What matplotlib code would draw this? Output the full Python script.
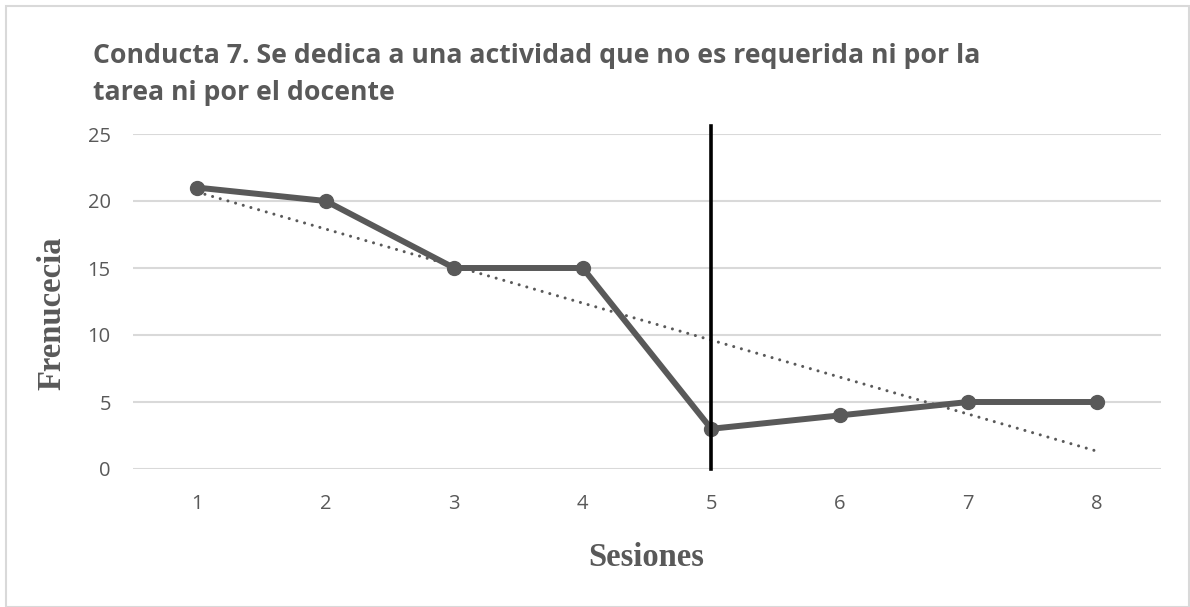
import numpy as np
import matplotlib.pyplot as plt
from matplotlib.patches import Rectangle

sesiones = [1, 2, 3, 4, 5, 6, 7, 8]
frecuencia = [21, 20, 15, 15, 3, 4, 5, 5]
yticks = [0, 5, 10, 15, 20, 25]
corte = 5  # session where the phase changes

gris = '#595959'

fig = plt.figure(figsize=(11.9, 6.07), dpi=100)
ax = fig.add_axes([133 / 1190, 1 - 469 / 607, (1161 - 133) / 1190, (469 - 134) / 607])

# frame around the whole chart
fig.patches.append(Rectangle((6 / 1190, 0), 1 - 7 / 1190, 1 - 6 / 607, transform=fig.transFigure,
                             fill=False, edgecolor='#d9d9d9', linewidth=1.5))

ax.set_xlim(0.5, 8.5)
ax.set_ylim(0, 25)
ax.set_yticks(yticks)
ax.set_xticks(sesiones)
ax.grid(axis='y', color='#d9d9d9', linewidth=1.5)
ax.set_axisbelow(True)
for s in ax.spines.values():
    s.set_visible(False)
ax.tick_params(length=0, labelsize=14.5, labelcolor=gris)
ax.tick_params(axis='x', pad=18)
ax.tick_params(axis='y', pad=16)
for lb in ax.get_xticklabels() + ax.get_yticklabels():
    lb.set_fontfamily('Open Sans')

ax.plot(sesiones, frecuencia, color=gris, linewidth=4.3, marker='o', markersize=10, zorder=3)

# linear trend
m, b = np.polyfit(sesiones, frecuencia, 1)
xs = np.array([sesiones[0], sesiones[-1]])
ax.plot(xs, m * xs + b, color=gris, linewidth=2.2, linestyle=(0, (0.01, 2.6)),
        dash_capstyle='round', zorder=2)

ax.plot([corte, corte], [0, 25.6], color='black', linewidth=2.6, clip_on=False, zorder=4)

fig.text(93 / 1190, 1 - 56 / 607, 'Conducta 7. Se dedica a una actividad que no es requerida ni por la',
         fontsize=19.2, fontweight='bold', color=gris, family='Open Sans', va='center', ha='left')
fig.text(93 / 1190, 1 - 93 / 607, 'tarea ni por el docente',
         fontsize=19.2, fontweight='bold', color=gris, family='Open Sans', va='center', ha='left')

fig.text(52 / 1190, 1 - 313 / 607, 'Frenucecia', rotation=90, fontsize=23.5, fontweight='bold',
         color=gris, family='Liberation Serif', va='center', ha='center')
fig.text(646 / 1190, 1 - 557 / 607, 'Sesiones', fontsize=23.5, fontweight='bold',
         color=gris, family='Liberation Serif', va='center', ha='center')

fig.savefig('out.png', dpi=100)
